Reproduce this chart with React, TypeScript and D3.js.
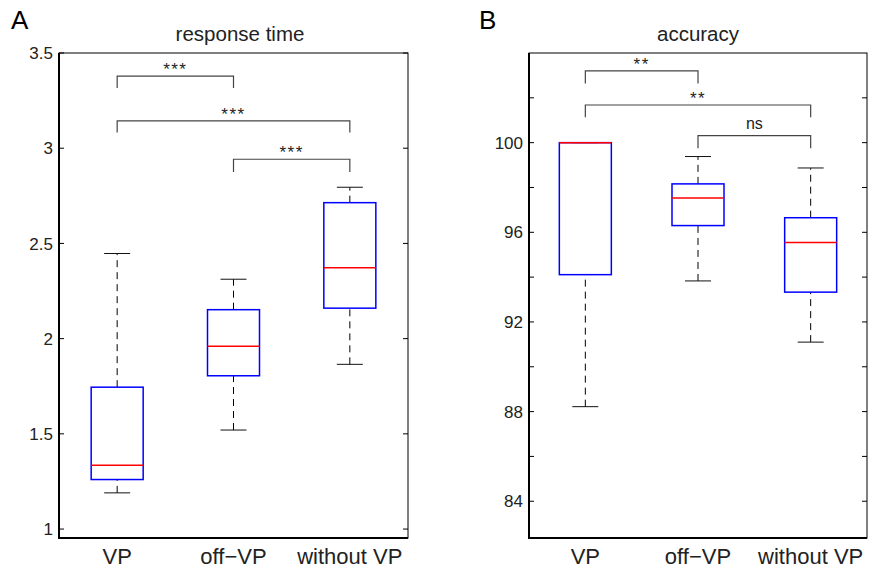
import { useEffect, useRef } from 'react';
import * as d3 from 'd3';

type BoxStat = { lo: number; q1: number; med: number; q3: number; hi: number };

const categories = ['VP', 'off\u2212VP', 'without VP'];

// panel A: response time
const rtLo = [1.19, 1.52, 1.865];
const rtQ1 = [1.26, 1.805, 2.16];
const rtMed = [1.335, 1.96, 2.372];
const rtQ3 = [1.745, 2.152, 2.714];
const rtHi = [2.447, 2.312, 2.795];
const rtTicks = [1, 1.5, 2, 2.5, 3, 3.5];
const rtBracketPairs = [[0, 1], [0, 2], [1, 2]];
const rtBracketTop = [3.379, 3.144, 2.942];
const rtBracketBottom = [3.316, 3.083, 2.875];
const rtBracketLabels = ['***', '***', '***'];

// panel B: accuracy
const accLo = [88.22, 93.83, 91.1];
const accQ1 = [94.11, 96.3, 93.33];
const accMed = [100, 97.53, 95.54];
const accQ3 = [100, 98.16, 96.65];
const accHi = [100, 99.38, 98.87];
const accTicks = [84, 86, 88, 90, 92, 94, 96, 98, 100, 102];
const accTickLabels = ['84', '', '88', '', '92', '', '96', '', '100', ''];
const accBracketPairs = [[0, 1], [0, 2], [1, 2]];
const accBracketTop = [103.2, 101.68, 100.31];
const accBracketBottom = [102.64, 101.13, 99.75];
const accBracketLabels = ['**', '**', 'ns'];

const FONT = '"Liberation Sans", Arial, Helvetica, sans-serif';

type PanelOpts = {
  letter: string;
  title: string;
  left: number;
  right: number;
  domain: [number, number];
  ticks: number[];
  tickLabels: string[];
  stats: BoxStat[];
  pairs: number[][];
  bTop: number[];
  bBottom: number[];
  bLabels: string[];
  letterX: number;
  titleX: number;
};

const toStats = (lo: number[], q1: number[], med: number[], q3: number[], hi: number[]) =>
  lo.map((_, i) => ({ lo: lo[i], q1: q1[i], med: med[i], q3: q3[i], hi: hi[i] }));

export default function App() {
  const ref = useRef<SVGSVGElement | null>(null);

  useEffect(() => {
    if (!ref.current) return;
    const svg = d3.select(ref.current);
    svg.selectAll('*').remove();

    const top = 53;
    const bottom = 538;

    const drawPanel = (o: PanelOpts) => {
      const x = d3.scalePoint<string>().domain(categories).range([o.left, o.right]).padding(0.5);
      const y = d3.scaleLinear().domain(o.domain).range([bottom, top]);
      const g = svg.append('g');
      const boxHalf = 26;
      const capHalf = 13;

      // panel letter and title
      g.append('text')
        .attr('x', o.letterX)
        .attr('y', 29)
        .style('font-family', FONT)
        .style('font-size', '26px')
        .style('fill', '#000')
        .text(o.letter);
      g.append('text')
        .attr('x', o.titleX)
        .attr('y', 41)
        .attr('text-anchor', 'middle')
        .style('font-family', FONT)
        .style('font-size', '20.5px')
        .style('fill', '#222')
        .text(o.title);

      // frame: thin top/right, thick left/bottom
      g.append('rect')
        .attr('x', o.left)
        .attr('y', top)
        .attr('width', o.right - o.left)
        .attr('height', bottom - top)
        .attr('fill', 'none')
        .attr('stroke', '#000')
        .attr('stroke-width', 1);
      g.append('path')
        .attr('d', `M${o.left},${top}V${bottom}H${o.right}`)
        .attr('fill', 'none')
        .attr('stroke', '#000')
        .attr('stroke-width', 2);

      // ticks inside on both sides
      o.ticks.forEach((t, i) => {
        const ty = y(t);
        g.append('line')
          .attr('x1', o.left)
          .attr('x2', o.left + 5)
          .attr('y1', ty)
          .attr('y2', ty)
          .attr('stroke', '#000')
          .attr('stroke-width', 1);
        g.append('line')
          .attr('x1', o.right - 5)
          .attr('x2', o.right)
          .attr('y1', ty)
          .attr('y2', ty)
          .attr('stroke', '#000')
          .attr('stroke-width', 1);
        g.append('text')
          .attr('x', o.left - 6)
          .attr('y', ty)
          .attr('dy', '0.36em')
          .attr('text-anchor', 'end')
          .style('font-family', FONT)
          .style('font-size', '17px')
          .style('fill', '#222')
          .text(o.tickLabels[i]);
      });

      // category labels
      categories.forEach((c) => {
        g.append('text')
          .attr('x', x(c) as number)
          .attr('y', 564)
          .attr('text-anchor', 'middle')
          .style('font-family', FONT)
          .style('font-size', '22px')
          .style('fill', '#222')
          .text(c);
      });

      // boxes
      o.stats.forEach((s, i) => {
        const cx = x(categories[i]) as number;
        // whiskers
        [
          [s.q3, s.hi],
          [s.lo, s.q1]
        ].forEach(([a, b]) => {
          if (b - a <= 0) return;
          g.append('line')
            .attr('x1', cx)
            .attr('x2', cx)
            .attr('y1', y(a))
            .attr('y2', y(b))
            .attr('stroke', '#000')
            .attr('stroke-width', 1)
            .attr('stroke-dasharray', '7,5');
        });
        [s.lo, s.hi].forEach((v) => {
          g.append('line')
            .attr('x1', cx - capHalf)
            .attr('x2', cx + capHalf)
            .attr('y1', y(v))
            .attr('y2', y(v))
            .attr('stroke', '#111')
            .attr('stroke-width', 1);
        });
        g.append('rect')
          .attr('x', cx - boxHalf)
          .attr('y', y(s.q3))
          .attr('width', boxHalf * 2)
          .attr('height', y(s.q1) - y(s.q3))
          .attr('fill', 'none')
          .attr('stroke', '#0000ff')
          .attr('stroke-width', 1.5);
        g.append('line')
          .attr('x1', cx - boxHalf)
          .attr('x2', cx + boxHalf)
          .attr('y1', y(s.med))
          .attr('y2', y(s.med))
          .attr('stroke', '#ff0000')
          .attr('stroke-width', 1.5);
      });

      // significance brackets
      o.pairs.forEach(([a, b], i) => {
        const xa = x(categories[a]) as number;
        const xb = x(categories[b]) as number;
        const yt = y(o.bTop[i]);
        const yb = y(o.bBottom[i]);
        g.append('path')
          .attr('d', `M${xa},${yb}V${yt}H${xb}V${yb}`)
          .attr('fill', 'none')
          .attr('stroke', '#444')
          .attr('stroke-width', 1.2);
        const isStars = o.bLabels[i].startsWith('*');
        g.append('text')
          .attr('x', (xa + xb) / 2)
          .attr('y', isStars ? yt - 1 : yt - 7)
          .attr('text-anchor', 'middle')
          .style('font-family', FONT)
          .style('font-size', isStars ? '17px' : '16px')
          .style('letter-spacing', isStars ? '1.5px' : '0px')
          .style('fill', '#222')
          .text(o.bLabels[i]);
      });
    };

    drawPanel({
      letter: 'A',
      title: 'response time',
      left: 59,
      right: 408,
      domain: [0.953, 3.5],
      ticks: rtTicks,
      tickLabels: rtTicks.map((t) => String(t)),
      stats: toStats(rtLo, rtQ1, rtMed, rtQ3, rtHi),
      pairs: rtBracketPairs,
      bTop: rtBracketTop,
      bBottom: rtBracketBottom,
      bLabels: rtBracketLabels,
      letterX: 11,
      titleX: 240
    });

    drawPanel({
      letter: 'B',
      title: 'accuracy',
      left: 529,
      right: 867,
      domain: [82.36, 104],
      ticks: accTicks,
      tickLabels: accTickLabels,
      stats: toStats(accLo, accQ1, accMed, accQ3, accHi),
      pairs: accBracketPairs,
      bTop: accBracketTop,
      bBottom: accBracketBottom,
      bLabels: accBracketLabels,
      letterX: 479,
      titleX: 698
    });
  }, []);

  return (
    <svg
      ref={ref}
      width={869}
      height={568}
      style={{ position: 'absolute', left: 0, top: 0, background: '#fff' }}
    />
  );
}
